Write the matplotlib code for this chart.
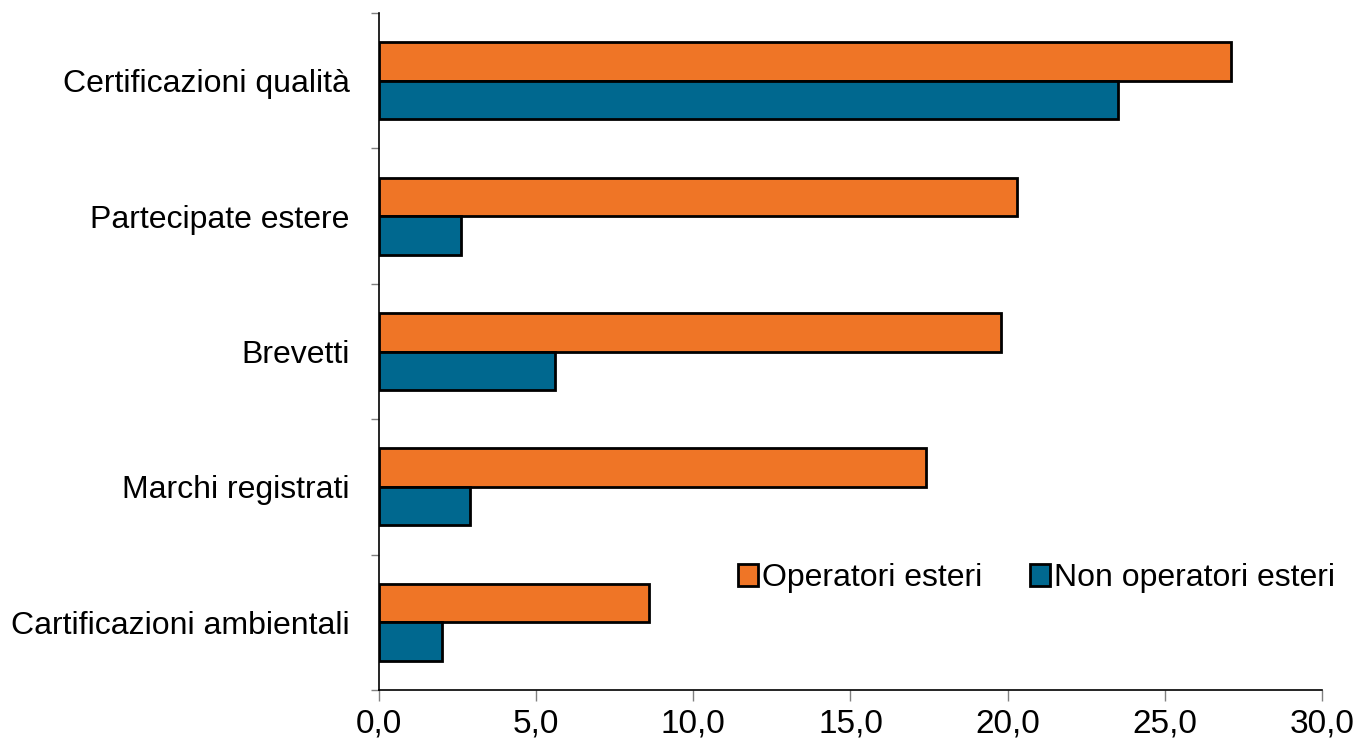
import matplotlib
matplotlib.use("Agg")
import matplotlib.pyplot as plt
import numpy as np
from matplotlib.ticker import FuncFormatter, FixedLocator

plt.rcParams['font.family'] = ['Liberation Sans', 'DejaVu Sans']

categories = ["Certificazioni qualità", "Partecipate estere", "Brevetti",
              "Marchi registrati", "Cartificazioni ambientali"]
operatori_esteri = [27.1, 20.3, 19.8, 17.4, 8.6]
non_operatori_esteri = [23.5, 2.6, 5.6, 2.9, 2.0]
series_labels = ["Operatori esteri", "Non operatori esteri"]
x_ticks = [0, 5, 10, 15, 20, 25, 30]

orange = "#EF7526"
blue = "#00688F"

fig = plt.figure(figsize=(13.57, 7.44), dpi=100)
ax = fig.add_axes([0.2793, 0.0726, 0.6949, 0.9099])

y = np.arange(len(categories))
h = 0.285
ax.barh(y - h / 2, operatori_esteri, height=h, color=orange,
        edgecolor="black", linewidth=2.0, label=series_labels[0])
ax.barh(y + h / 2, non_operatori_esteri, height=h, color=blue,
        edgecolor="black", linewidth=2.0, label=series_labels[1])

ax.set_ylim(len(categories) - 0.5, -0.5)
ax.set_xlim(0, 30)

# category separators as major ticks, labels on minor ticks at centres
ax.yaxis.set_major_locator(FixedLocator(np.arange(-0.5, len(categories), 1.0)))
ax.yaxis.set_major_formatter(FuncFormatter(lambda v, p: ""))
ax.yaxis.set_minor_locator(FixedLocator(y))
ax.set_yticklabels(categories, minor=True)
ax.tick_params(axis="y", which="major", direction="out", length=6,
               color="#808080", width=1)
ax.tick_params(axis="y", which="minor", length=0, pad=21, labelsize=23)

ax.set_xticks(x_ticks)
ax.xaxis.set_major_formatter(FuncFormatter(lambda v, p: f"{v:.1f}".replace(".", ",")))
ax.tick_params(axis="x", direction="out", length=8, color="#808080",
               width=1, pad=5, labelsize=24)

for s in ("top", "right"):
    ax.spines[s].set_visible(False)
for s in ("left", "bottom"):
    ax.spines[s].set_color("black")
    ax.spines[s].set_linewidth(1.2)

ax.legend(loc="center right", bbox_to_anchor=(1.027, 0.165), ncol=2,
          frameon=False, fontsize=23, handlelength=0.65, handleheight=0.65,
          handletextpad=0.1, columnspacing=1.5, borderaxespad=0)

fig.savefig("out.png", dpi=100)
